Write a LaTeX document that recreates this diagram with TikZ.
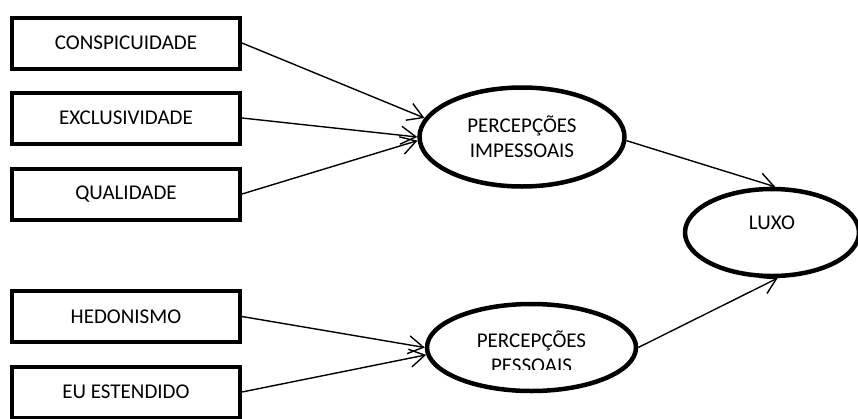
\documentclass[tikz,border=0pt]{standalone}
\usepackage{fontspec}
\setmainfont{Carlito}
\usetikzlibrary{shapes.geometric,arrows.meta}
\begin{document}
\begin{tikzpicture}[x=1pt,y=-1pt,
  txt/.style={font=\fontsize{21}{25}\selectfont},
  box/.style={draw,line width=4pt,rectangle,minimum width=228pt,minimum height=51pt,inner sep=0pt,txt},
  ell/.style={draw,line width=4.5pt,ellipse,inner sep=0pt,txt,align=center},
  arr/.style={line width=1.4pt,-{Straight Barb[length=15pt,width=18pt,line width=1.4pt]}}
]
\clip (0,0) rectangle (858,418);
\node[box] (c1) at (126,43) {CONSPICUIDADE};
\node[box] (c2) at (126,118) {EXCLUSIVIDADE};
\node[box] (c3) at (126,194) {QUALIDADE};
\node[box] (h1) at (126,316.5) {HEDONISMO};
\node[box] (h2) at (126,392) {EU ESTENDIDO};
\node[ell,minimum width=205pt,minimum height=99pt] (pi) at (522,137) {PERCEPÇÕES\\IMPESSOAIS};
\node[ell,minimum width=174pt,minimum height=87pt,text height=13.5pt,text depth=20pt] (lx) at (772,232.5) {LUXO};
\node[ell,minimum width=209pt,minimum height=87pt] (pp) at (531.5,347.5) {};
\begin{scope}
\clip (420,320) rectangle (640,369.5);
\node[txt,align=center,inner sep=0pt] (ppt) at (531.5,352) {PERCEPÇÕES\\PESSOAIS};
\end{scope}
\draw[arr] (c1.east) -- (pi.169);
\draw[arr] (c2.east) -- (pi.180);
\draw[arr] (c3.east) -- (pi.182);
\draw[arr] (h1.east) -- (pp.180);
\draw[arr] (h2.east) -- (pp.184);
\draw[arr] (pi.358) -- (lx.86);
\draw[arr] (pp.east) -- (lx.277);
\end{tikzpicture}
\end{document}
